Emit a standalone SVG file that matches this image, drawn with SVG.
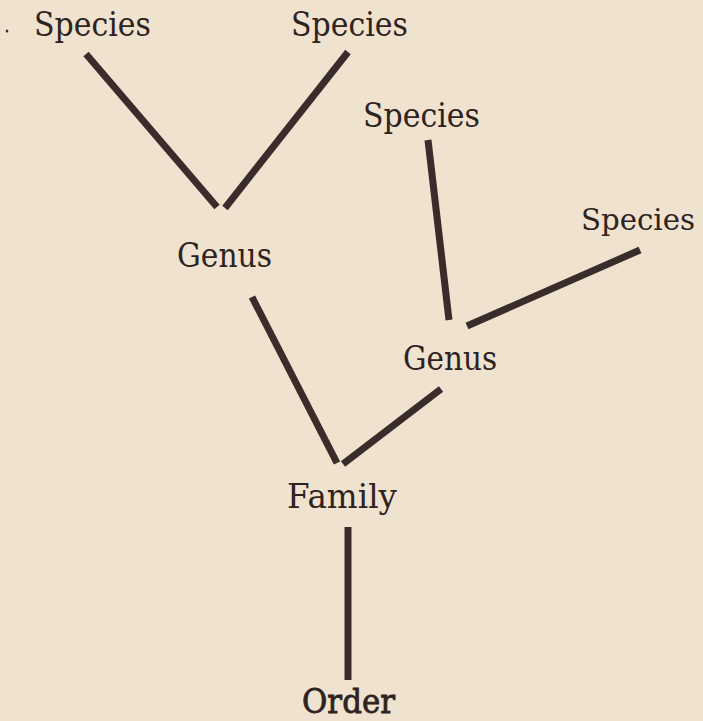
<svg xmlns="http://www.w3.org/2000/svg" width="703" height="721" viewBox="0 0 703 721">
<style>
.lbl{font-family:"DejaVu Serif","Liberation Serif",serif;font-size:33px;fill:#2e2320}
.edge{stroke:#3a2c2a;stroke-width:7;stroke-linecap:butt;fill:none}
</style>
<rect width="703" height="721" fill="#efe2cf"/>
<ellipse cx="7" cy="31" rx="1.3" ry="1.6" fill="#3a2c2a"/>
<g id="connectors">
<line class="edge" x1="86" y1="54" x2="217" y2="207"/>
<line class="edge" x1="348" y1="52" x2="225" y2="208"/>
<line class="edge" x1="428" y1="140" x2="449" y2="320"/>
<line class="edge" x1="640" y1="250" x2="467" y2="326"/>
<line class="edge" x1="252" y1="297" x2="337" y2="463"/>
<line class="edge" x1="441" y1="389" x2="343" y2="464"/>
<line class="edge" x1="348" y1="527" x2="348" y2="680"/>
</g>
<g id="species1"><text class="lbl" x="34" y="36" textLength="117" lengthAdjust="spacingAndGlyphs">Species</text></g>
<g id="species2"><text class="lbl" x="291" y="36" textLength="117" lengthAdjust="spacingAndGlyphs">Species</text></g>
<g id="species3"><text class="lbl" x="363" y="127" textLength="117" lengthAdjust="spacingAndGlyphs">Species</text></g>
<g id="species4"><text class="lbl" x="581" y="230" textLength="114" lengthAdjust="spacingAndGlyphs" style="font-size:30.5px">Species</text></g>
<g id="genus1"><text class="lbl" x="177" y="267" textLength="95" lengthAdjust="spacingAndGlyphs">Genus</text></g>
<g id="genus2"><text class="lbl" x="403" y="370" textLength="94" lengthAdjust="spacingAndGlyphs">Genus</text></g>
<g id="family"><text class="lbl" x="287" y="508" textLength="110" lengthAdjust="spacingAndGlyphs">Family</text></g>
<g id="order"><text class="lbl" x="302" y="713" textLength="93" lengthAdjust="spacingAndGlyphs" style="stroke:#2e2320;stroke-width:0.8">Order</text></g>
</svg>
